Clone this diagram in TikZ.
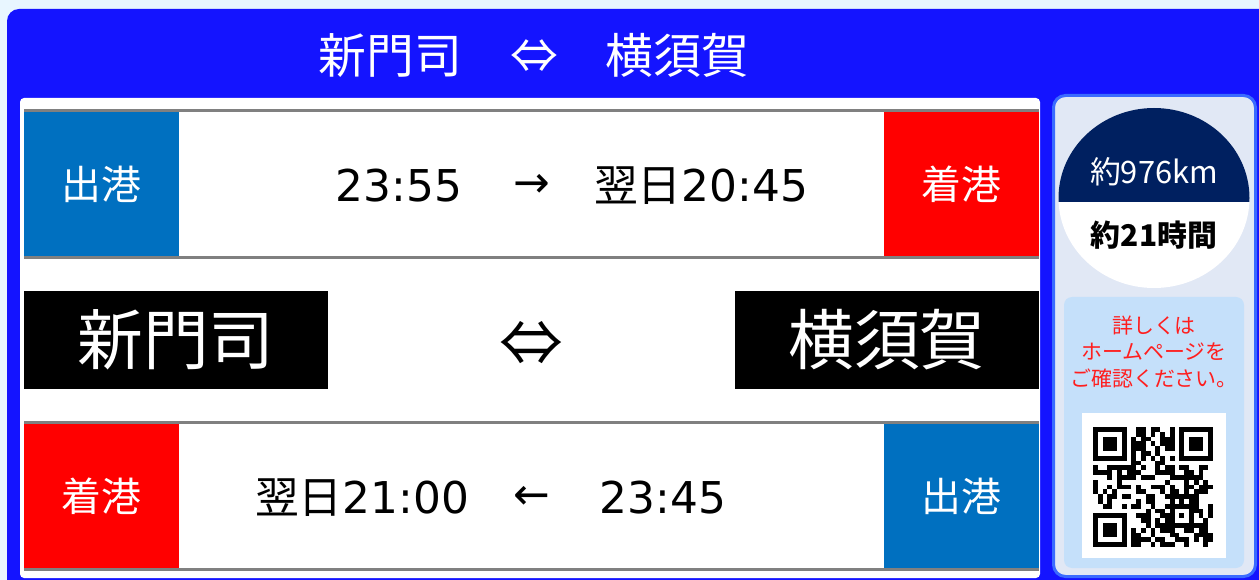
\documentclass[tikz,border=0pt]{standalone}
\usepackage{fontspec}
\setmainfont{Noto Sans CJK JP}
\newfontfamily\numfont{DejaVu Sans}
\definecolor{mainblue}{RGB}{20,20,255}
\definecolor{bgcyan}{RGB}{232,246,255}
\definecolor{depblue}{RGB}{0,112,192}
\definecolor{navy}{RGB}{0,32,96}
\definecolor{panelblue}{RGB}{58,107,255}
\definecolor{panelbg}{RGB}{225,232,245}
\definecolor{infobg}{RGB}{197,224,250}
\definecolor{notered}{RGB}{255,30,30}
\begin{document}
\begin{tikzpicture}[x=1bp, y=-1bp,
    box/.style={minimum width=155bp, minimum height=144bp, inner sep=0, text=white, font=\fontsize{40}{44}\selectfont},
    dep/.style={box, fill=depblue},
    arr/.style={box, fill=red},
    port/.style={fill=black, text=white, minimum width=304bp, minimum height=98bp, inner sep=0, font=\fontsize{66}{70}\selectfont},
    clock/.style={inner sep=0, font=\numfont\fontsize{44}{50}\selectfont},
    gline/.style={draw=gray, line width=3bp}]
    \useasboundingbox (0,0) rectangle (1259,580);
    \fill[bgcyan] (0,0) rectangle (1259,580);
    \fill[mainblue, rounded corners=12bp] (7,9) rectangle (1280,600);
    %title
    \node[text=white, font=\fontsize{48}{52}\selectfont] (title) at (534,55) {新門司　⇔　横須賀};
    %timetable
    \fill[white, rounded corners=4bp] (20,98) rectangle (1040,578);
    \draw[gline] (24,110.5) -- (1039,110.5);
    \draw[gline] (24,257.5) -- (1039,257.5);
    \draw[gline] (24,422.5) -- (1039,422.5);
    \draw[gline] (24,569.5) -- (1039,569.5);
    \node[dep] (d1) at (101.5,184) {出港};
    \node[arr] (a1) at (961.5,184) {着港};
    \node[arr] (a2) at (101.5,496) {着港};
    \node[dep] (d2) at (961.5,496) {出港};
    \node[clock] (t1) at (399,186) {23:55};
    \node[clock] (r1) at (532,186) {→};
    \node[clock] (t2) at (701,186) {{\rmfamily 翌日}20:45};
    \node[clock] (t3) at (362,498) {{\rmfamily 翌日}21:00};
    \node[clock] (r2) at (532,498) {←};
    \node[clock] (t4) at (663,498) {23:45};
    \node[port] (p1) at (176,340) {新門司};
    \node[port] (p2) at (887,340) {横須賀};
    \node[font=\fontsize{64}{70}\selectfont] (both) at (531,344) {⇔};
    %side panel
    \draw[panelblue, fill=panelbg, line width=3bp, rounded corners=12bp] (1053.5,95.5) rectangle (1255.5,576.5);
    \fill[white] (1154,198) ellipse [x radius=95.5, y radius=90];
    \begin{scope}
        \clip (1154,198) ellipse [x radius=95.5, y radius=90];
        \fill[navy] (1050,100) rectangle (1260,202);
    \end{scope}
    \node[text=white, font=\fontsize{31}{34}\selectfont] (dist) at (1154,172) {約976km};
    \node[font=\fontsize{30}{34}\selectfont\bfseries] (dur) at (1154,235) {約21時間};
    \fill[infobg, rounded corners=8bp] (1064,297) rectangle (1244,568);
    \node[text=notered, align=center, font=\fontsize{21}{26.5}\selectfont] (note) at (1154,352) {詳しくは\\ホームページを\\ご確認ください。};
    %qr code
    \fill[white] (1082,413) rectangle (1226,558);
    \begin{scope}[shift={(1093,427)}, x=4.8bp, y=-4.8bp]
        \pgfmathsetseed{2718}
        \foreach \i in {0,...,24}{
            \foreach \j in {0,...,24}{
                \pgfmathrandominteger{\bit}{0}{1}
                \ifnum\bit=1 \fill (\i,\j) rectangle ++(1,1); \fi
            }
        }
        \foreach \fx/\fy in {0/0,18/0,0/18}{
            \fill[white] (\fx-1,\fy-1) rectangle ++(9,9);
            \fill (\fx,\fy) rectangle ++(7,7);
            \fill[white] (\fx+1,\fy+1) rectangle ++(5,5);
            \fill (\fx+2,\fy+2) rectangle ++(3,3);
        }
        \fill (16,16) rectangle ++(5,5);
        \fill[white] (17,17) rectangle ++(3,3);
        \fill (18,18) rectangle ++(1,1);
        \foreach \k in {8,...,16}{
            \pgfmathtruncatemacro{\odd}{mod(\k,2)}
            \ifnum\odd=0 \fill (\k,6) rectangle ++(1,1); \fill (6,\k) rectangle ++(1,1);
            \else \fill[white] (\k,6) rectangle ++(1,1); \fill[white] (6,\k) rectangle ++(1,1); \fi
        }
    \end{scope}
\end{tikzpicture}
\end{document}
